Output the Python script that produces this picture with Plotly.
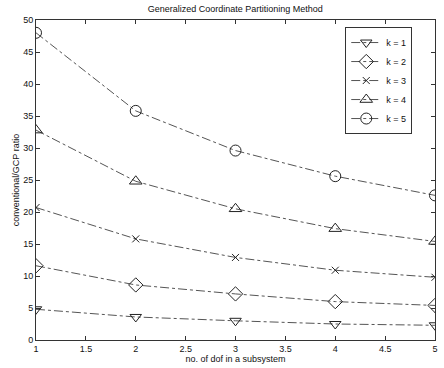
import plotly.graph_objects as go

x_vals = [1, 2, 3, 4, 5]
k1 = [4.8, 3.6, 3.0, 2.5, 2.3]
k2 = [11.6, 8.6, 7.2, 6.0, 5.4]
k3 = [20.7, 15.8, 12.9, 10.9, 9.8]
k4 = [32.8, 24.8, 20.5, 17.4, 15.4]
k5 = [48.0, 35.8, 29.6, 25.6, 22.6]
names = ["k = 1", "k = 2", "k = 3", "k = 4", "k = 5"]
series = [k1, k2, k3, k4, k5]
symbols = ["triangle-down-open", "diamond-open", "x-thin-open", "triangle-up-open", "circle-open"]
sizes = [10, 11, 7, 11, 11]

fig = go.Figure()
for name, ys, sym, sz in zip(names, series, symbols, sizes):
    fig.add_trace(go.Scatter(
        x=x_vals, y=ys, name=name, mode="lines+markers",
        line=dict(color="#555", width=1, dash="dashdot"),
        marker=dict(symbol=sym, size=sz, color="#222", line=dict(color="#222", width=1)),
    ))

font = dict(family="Liberation Sans, Arial, sans-serif", size=9, color="#111")
fig.update_layout(
    width=444, height=368,
    margin=dict(l=36, r=6, t=20, b=27),
    paper_bgcolor="white", plot_bgcolor="white",
    font=font,
    title=dict(text="Generalized Coordinate Partitioning Method", x=0.53, xanchor="center",
               y=0.985, yanchor="top", font=dict(size=9)),
    showlegend=True,
    legend=dict(x=0.943, y=0.978, xanchor="right", yanchor="top",
                bordercolor="#333", borderwidth=1, bgcolor="white",
                font=dict(size=9), tracegroupgap=0, itemwidth=30),
    xaxis=dict(range=[1, 5], tickvals=[1, 1.5, 2, 2.5, 3, 3.5, 4, 4.5, 5],
               ticktext=["1", "1.5", "2", "2.5", "3", "3.5", "4", "4.5", "5"],
               ticks="inside", ticklen=4, tickcolor="#333",
               showline=True, linecolor="#333", linewidth=1, mirror="ticks",
               showgrid=False, zeroline=False,
               title=dict(text="no. of dof in a subsystem", standoff=2, font=dict(size=9))),
    yaxis=dict(range=[0, 50], tickvals=[0, 5, 10, 15, 20, 25, 30, 35, 40, 45, 50],
               ticks="inside", ticklen=4, tickcolor="#333",
               showline=True, linecolor="#333", linewidth=1, mirror="ticks",
               showgrid=False, zeroline=False,
               title=dict(text="conventional/GCP ratio", standoff=2, font=dict(size=9))),
)
fig.write_html("out.html")
